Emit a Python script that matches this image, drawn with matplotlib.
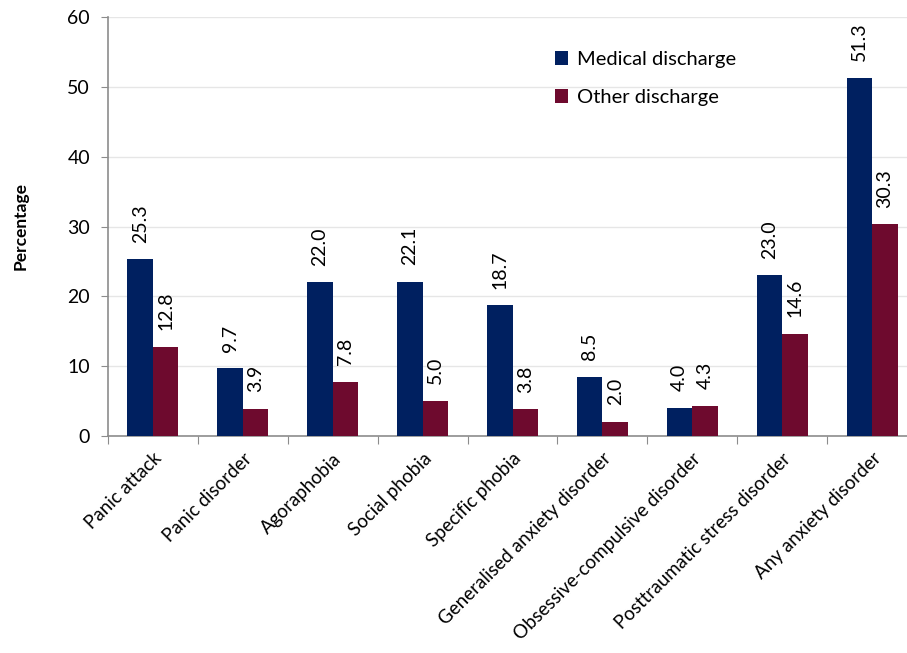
import matplotlib.pyplot as plt
import numpy as np

plt.rcParams['font.family'] = ['Lato', 'DejaVu Sans']

categories = ['Panic attack', 'Panic disorder', 'Agoraphobia', 'Social phobia',
              'Specific phobia', 'Generalised anxiety disorder',
              'Obsessive-compulsive disorder', 'Posttraumatic stress disorder',
              'Any anxiety disorder']
medical = [25.3, 9.7, 22.0, 22.1, 18.7, 8.5, 4.0, 23.0, 51.3]
other = [12.8, 3.9, 7.8, 5.0, 3.8, 2.0, 4.3, 14.6, 30.3]

blue = '#002060'
red = '#6E0A2E'

fig = plt.figure(figsize=(9.07, 6.53), dpi=100)
ax = fig.add_axes([108/907, 1 - 436/653, 809/907, 419/653])

x = np.arange(len(categories))
w = 0.284
b1 = ax.bar(x - w/2, medical, w, color=blue, label='Medical discharge', zorder=3)
b2 = ax.bar(x + w/2, other, w, color=red, label='Other discharge', zorder=3)

# étiquettes de valeurs verticales au-dessus des barres
for bars, vals in ((b1, medical), (b2, other)):
    for rect, v in zip(bars, vals):
        ax.annotate('%.1f' % v, (rect.get_x() + rect.get_width()/2, v),
                    xytext=(0, 12), textcoords='offset points',
                    rotation=90, ha='center', va='bottom', fontsize=14)

ax.set_ylim(0, 60)
ax.set_xlim(-0.5, len(categories) - 0.5)
ax.set_yticks(range(0, 61, 10))
ax.yaxis.grid(True, color='#e6e6e6', linewidth=1, zorder=0)
ax.tick_params(axis='y', labelsize=14, length=5, color='#8c8c8c', pad=8)

# ticks x entre les catégories
ax.set_xticks(np.arange(-0.5, len(categories), 1), minor=False)
ax.set_xticklabels([])
ax.set_xticks(x, minor=True)
ax.set_xticklabels(categories, minor=True, rotation=45, ha='right',
                   rotation_mode='anchor', fontsize=13.5)
ax.tick_params(axis='x', which='minor', length=0, pad=10)
ax.tick_params(axis='x', which='major', length=6, color='#8c8c8c')

for s in ('top', 'right'):
    ax.spines[s].set_visible(False)
for s in ('left', 'bottom'):
    ax.spines[s].set_color('#8c8c8c')
    ax.spines[s].set_linewidth(1.2)

ax.set_ylabel('Percentage', fontsize=12.5, fontweight='bold', labelpad=28)

ax.legend(loc='upper left', bbox_to_anchor=(0.53, 0.962), frameon=False,
          fontsize=14.5, handlelength=0.65, handleheight=0.65, handletextpad=0.45,
          labelspacing=1.05)

fig.savefig('out.png', dpi=100)
